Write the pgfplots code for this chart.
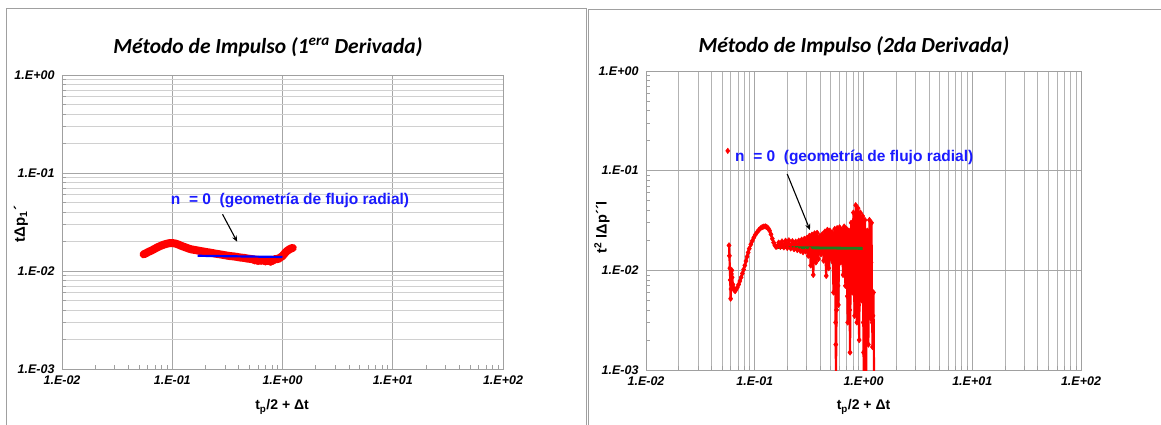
\documentclass[border=0pt]{standalone}
\usepackage{fontspec}
\setmainfont{Liberation Sans}
\newfontfamily\titlefont{Carlito}
\usepackage{pgfplots}
\pgfplotsset{compat=1.18}
\usetikzlibrary{arrows.meta}

\definecolor{gridmaj}{HTML}{A6A6A6}
\definecolor{gridmin}{HTML}{D0D0D0}
\definecolor{framec}{HTML}{A0A0A0}
\definecolor{annblue}{HTML}{1A1AFF}
\definecolor{fitgreen}{HTML}{1E7D1E}

\pgfplotstableread{
x y
0.055 0.0148
0.058 0.0152
0.061 0.0157
0.065 0.0162
0.069 0.0168
0.073 0.0174
0.078 0.0180
0.083 0.0185
0.088 0.0189
0.093 0.0192
0.098 0.0193
0.103 0.0192
0.108 0.0190
0.114 0.0186
0.120 0.0181
0.127 0.0177
0.134 0.0173
0.142 0.0169
0.150 0.0166
0.160 0.0164
0.170 0.0162
0.180 0.0160
0.192 0.0158
0.205 0.0156
0.220 0.0154
0.235 0.0152
0.250 0.0150
0.270 0.0148
0.290 0.0146
0.310 0.0144
0.335 0.0142
0.360 0.0141
0.390 0.0139
0.420 0.0137
0.450 0.0136
0.480 0.0134
0.510 0.0133
0.550 0.0131
0.590 0.0130
0.630 0.0129
0.670 0.0128
0.710 0.0127
0.750 0.0128
0.790 0.0127
0.830 0.0130
0.870 0.0133
0.910 0.0132
0.950 0.0137
1.000 0.0142
1.050 0.0152
1.100 0.0160
1.150 0.0166
1.200 0.0170
1.240 0.0172
}\firstderiv

\pgfplotstableread{
x y
0.560 0.0126
0.600 0.0124
0.640 0.0125
0.700 0.0123
0.740 0.0124
0.780 0.0122
0.820 0.0125
}\firstderivnoise

\pgfplotstableread{
x y
0.058 0.0178
0.0585 0.0140
0.059 0.0105
0.0595 0.0080
0.060 0.0052
0.0605 0.0065
0.061 0.0092
0.0615 0.0100
0.062 0.0085
0.063 0.0072
0.064 0.0066
0.065 0.0063
0.066 0.0062
0.067 0.0064
0.069 0.0067
0.071 0.0072
0.073 0.0078
0.075 0.0085
0.077 0.0093
0.079 0.0102
0.081 0.0112
0.083 0.0124
0.085 0.0137
0.087 0.0151
0.089 0.0165
0.092 0.0182
0.095 0.0198
0.098 0.0213
0.101 0.0227
0.105 0.0241
0.109 0.0254
0.113 0.0264
0.117 0.0271
0.121 0.0275
0.125 0.0276
0.129 0.0272
0.133 0.0264
0.137 0.0250
0.141 0.0230
0.145 0.0208
0.149 0.0190
0.153 0.0178
0.157 0.0172
0.161 0.0174
0.166 0.0190
0.172 0.0172
0.178 0.0195
0.185 0.0170
0.192 0.0198
0.199 0.0168
0.206 0.0200
0.214 0.0166
0.222 0.0196
0.230 0.0163
0.238 0.0194
0.246 0.0160
0.254 0.0198
0.262 0.0157
0.270 0.0203
0.278 0.0152
0.286 0.0207
0.294 0.0155
0.302 0.0212
0.310 0.0140
0.318 0.0222
0.322 0.0160
0.327 0.0112
0.331 0.0150
0.336 0.0228
0.340 0.0130
0.345 0.0090
0.350 0.0140
0.355 0.0235
0.365 0.0120
0.375 0.0238
0.385 0.0130
0.396 0.0220
0.407 0.0145
0.418 0.0230
0.430 0.0125
0.442 0.0245
0.448 0.0130
0.454 0.0088
0.460 0.0140
0.466 0.0255
0.478 0.0105
0.490 0.0250
0.503 0.0130
0.516 0.0240
0.523 0.0120
0.530 0.0060
0.537 0.0130
0.544 0.0260
0.548 0.0120
0.551 0.0060
0.554 0.0030
0.556 0.0018
0.558 0.0008
0.565 0.0040
0.572 0.0265
0.578 0.0110
0.583 0.0070
0.587 0.0045
0.594 0.0120
0.602 0.0270
0.617 0.0120
0.633 0.0255
0.641 0.0140
0.649 0.0090
0.657 0.0150
0.665 0.0275
0.672 0.0120
0.682 0.0070
0.690 0.0140
0.699 0.0260
0.705 0.0110
0.710 0.0055
0.716 0.0030
0.725 0.0090
0.734 0.0250
0.740 0.0100
0.746 0.0040
0.752 0.0015
0.760 0.0070
0.770 0.0300
0.779 0.0120
0.789 0.0060
0.798 0.0150
0.808 0.0380
0.815 0.0120
0.821 0.0060
0.828 0.0035
0.838 0.0120
0.848 0.0450
0.855 0.0150
0.862 0.0060
0.869 0.0030
0.880 0.0140
0.890 0.0420
0.898 0.0110
0.905 0.0045
0.912 0.0020
0.925 0.0120
0.935 0.0380
0.946 0.0120
0.958 0.0050
0.970 0.0140
0.982 0.0350
0.990 0.0080
0.996 0.0030
1.001 0.0015
1.006 0.0009
1.018 0.0090
1.031 0.0320
1.040 0.0070
1.048 0.0020
1.056 0.0007
1.070 0.0080
1.082 0.0250
1.095 0.0070
1.108 0.0018
1.120 0.0090
1.134 0.0320
1.145 0.0100
1.153 0.0055
1.160 0.0033
1.172 0.0120
1.185 0.0300
1.195 0.0060
1.203 0.0030
1.210 0.0017
1.222 0.0035
1.235 0.0060
1.250 0.0008
}\secondderiv

\begin{document}
\begin{tikzpicture}[x=1pt,y=1pt]
\useasboundingbox (0,0) rectangle (1161,424);
\fill[white] (0,0) rectangle (1161,424);
% chart frames
\draw[framec, line width=1pt] (6,-5) -- (6,415) -- (586,415) -- (586,-5);
\draw[framec, line width=1pt] (588,-5) -- (588,414) -- (1170,414);

% ---------- Left chart ----------
\begin{axis}[
  xmode=log, ymode=log,
  scale only axis,
  anchor=south west,
  at={(62pt,55pt)}, width=441pt, height=294pt,
  xmin=0.01, xmax=100, ymin=0.001, ymax=1,
  xtick={0.01,0.1,1,10,100},
  xticklabels={1.E-02,1.E-01,1.E+00,1.E+01,1.E+02},
  ytick={0.001,0.01,0.1,1},
  yticklabels={1.E-03,1.E-02,1.E-01,1.E+00},
  minor xtick={0.02,0.03,0.04,0.05,0.06,0.07,0.08,0.09,0.2,0.3,0.4,0.5,0.6,0.7,0.8,0.9,2,3,4,5,6,7,8,9,20,30,40,50,60,70,80,90},
  minor ytick={0.002,0.003,0.004,0.005,0.006,0.007,0.008,0.009,0.02,0.03,0.04,0.05,0.06,0.07,0.08,0.09,0.2,0.3,0.4,0.5,0.6,0.7,0.8,0.9},
  ticklabel style={font=\fontsize{12.5}{14}\selectfont\bfseries\itshape},
  xticklabel style={yshift=-3pt},
  yticklabel style={xshift=-4pt},
  axis line style={framec, line width=0.8pt},
  tick align=inside,
  xtick pos=bottom, ytick pos=left,
  major tick length=0pt,
  minor tick length=4pt,
  every tick/.style={framec, line width=0.6pt},
  major grid style={gridmaj, line width=0.8pt},
  minor grid style={gridmin, line width=0.7pt},
  xmajorgrids, ymajorgrids, yminorgrids,
  title={Método de Impulso (1\textsuperscript{era} Derivada)},
  title style={font=\titlefont\bfseries\itshape\fontsize{21.5}{25}\selectfont, anchor=center, at={(axis description cs:0.467,1)}, yshift=22pt},
  xlabel={t\textsubscript{p}/2 + Δt},
  xlabel style={font=\fontsize{14}{16}\selectfont\bfseries, anchor=center, at={(axis description cs:0.499,0)}, yshift=-38pt},
  ylabel={tΔp\textsubscript{1}´},
  ylabel style={font=\fontsize{15}{17}\selectfont\bfseries, anchor=center, at={(axis description cs:-0.093,0.493)}},
]
\addplot[red, line width=8pt, line join=round, line cap=round] table[x=x,y=y] {\firstderiv};
\addplot[red, only marks, mark=*, mark size=3pt] table[x=x,y=y] {\firstderivnoise};
\addplot[blue, line width=2.2pt] coordinates {(0.17,0.0143) (1.0,0.0139)};
\node[anchor=west, text=annblue, font=\fontsize{15.5}{18}\selectfont\bfseries, inner sep=0pt] at (axis cs:0.097,0.053) {n\ \ = 0\ \ (geometría de flujo radial)};
\draw[-{Stealth[length=6pt,width=5pt]}, black, line width=1.1pt] (axis cs:0.286,0.0379) -- (axis cs:0.388,0.0199);
\end{axis}

% ---------- Right chart ----------
\begin{axis}[
  xmode=log, ymode=log,
  scale only axis,
  anchor=south west,
  at={(646pt,54pt)}, width=435pt, height=299pt,
  xmin=0.01, xmax=100, ymin=0.001, ymax=1,
  xtick={0.01,0.1,1,10,100},
  xticklabels={1.E-02,1.E-01,1.E+00,1.E+01,1.E+02},
  ytick={0.001,0.01,0.1,1},
  yticklabels={1.E-03,1.E-02,1.E-01,1.E+00},
  minor xtick={0.02,0.03,0.04,0.05,0.06,0.07,0.08,0.09,0.2,0.3,0.4,0.5,0.6,0.7,0.8,0.9,2,3,4,5,6,7,8,9,20,30,40,50,60,70,80,90},
  minor ytick={0.002,0.003,0.004,0.005,0.006,0.007,0.008,0.009,0.02,0.03,0.04,0.05,0.06,0.07,0.08,0.09,0.2,0.3,0.4,0.5,0.6,0.7,0.8,0.9},
  ticklabel style={font=\fontsize{12.5}{14}\selectfont\bfseries\itshape},
  xticklabel style={yshift=-3pt},
  yticklabel style={xshift=-4pt},
  axis line style={framec, line width=0.8pt},
  tick align=inside,
  xtick pos=bottom, ytick pos=left,
  major tick length=0pt,
  minor tick length=4pt,
  every tick/.style={framec, line width=0.6pt},
  major grid style={gridmaj, line width=0.8pt},
  minor grid style={gridmaj!85, line width=0.6pt},
  xmajorgrids, ymajorgrids, xminorgrids,
  title={Método de Impulso (2da Derivada)},
  title style={font=\titlefont\bfseries\itshape\fontsize{21.5}{25}\selectfont, anchor=center, at={(axis description cs:0.478,1)}, yshift=19pt},
  xlabel={t\textsubscript{p}/2 + Δt},
  xlabel style={font=\fontsize{14}{16}\selectfont\bfseries, anchor=center, at={(axis description cs:0.5,0)}, yshift=-37pt},
  ylabel={t\textsuperscript{2} lΔp´´l},
  ylabel style={font=\fontsize{14.5}{17}\selectfont\bfseries, anchor=center, at={(axis description cs:-0.101,0.478)}},
]
\addplot[red, line width=2.2pt, line join=round, mark=diamond*, mark size=2.8pt, mark options={red, line width=0.5pt}] table[x=x,y=y] {\secondderiv};
\addplot[red, only marks, mark=diamond*, mark size=2.8pt] coordinates {(0.0565,0.158)};
\addplot[fitgreen, line width=2.8pt] coordinates {(0.154,0.0170) (0.98,0.0166)};
\node[anchor=west, text=annblue, font=\fontsize{15.5}{18}\selectfont\bfseries, inner sep=0pt] at (axis cs:0.0658,0.137) {n\ \ = 0\ \ (geometría de flujo radial)};
\draw[-{Stealth[length=6pt,width=5pt]}, black, line width=1.1pt] (axis cs:0.199,0.0925) -- (axis cs:0.322,0.0254);
\end{axis}
\end{tikzpicture}
\end{document}
